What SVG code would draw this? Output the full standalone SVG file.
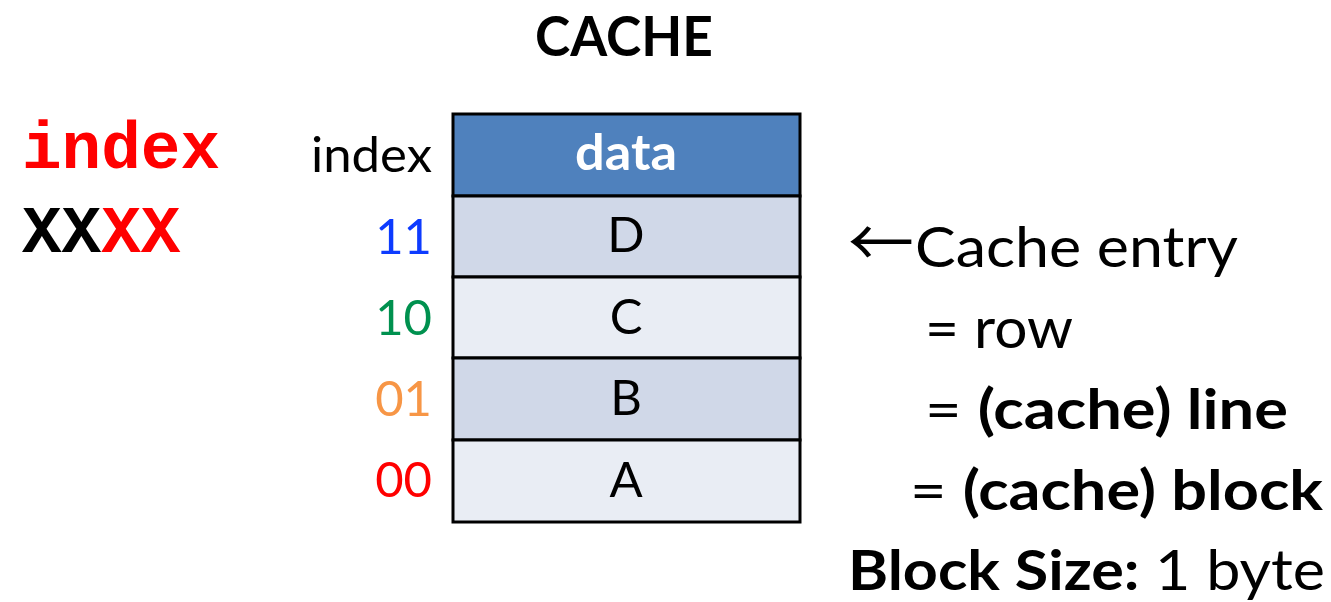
<svg xmlns="http://www.w3.org/2000/svg" width="1331" height="602" viewBox="0 0 1331 602">
<style>
.s{font-family:Lato,"Open Sans","Liberation Sans",sans-serif;}
.b{font-weight:bold;}
.m{font-family:"Liberation Mono","Courier New",monospace;font-weight:bold;font-size:66px;}
.cell{stroke:#000;stroke-width:3;}
.lbl{font-size:49px;text-anchor:middle;fill:#000;}
.idx{font-size:49px;text-anchor:end;}
.r{font-size:56px;fill:#000;}
.arr{font-family:"Noto Sans CJK SC",sans-serif;font-size:66px;}
</style>
<rect width="1331" height="602" fill="#fff"/>
<g id="title">
<text class="s b" x="624" y="56" font-size="56" text-anchor="middle" textLength="178" lengthAdjust="spacingAndGlyphs">CACHE</text>
</g>
<g id="address">
<text class="m" x="22" y="168" fill="#FF0000">index</text>
<text class="m" x="22" y="252"><tspan fill="#000">XX</tspan><tspan fill="#FF0000">XX</tspan></text>
</g>
<g id="cache-table">
<rect class="cell" x="453" y="114" width="347" height="82" fill="#4F81BD"/>
<rect class="cell" x="453" y="196" width="347" height="81" fill="#D0D8E8"/>
<rect class="cell" x="453" y="277" width="347" height="81" fill="#E9EDF4"/>
<rect class="cell" x="453" y="358" width="347" height="82" fill="#D0D8E8"/>
<rect class="cell" x="453" y="440" width="347" height="82" fill="#E9EDF4"/>
<text class="s b lbl" x="626" y="170" style="fill:#fff" textLength="102" lengthAdjust="spacingAndGlyphs">data</text>
<text class="s lbl" x="626" y="252">D</text>
<text class="s lbl" x="626" y="334">C</text>
<text class="s lbl" x="626" y="415">B</text>
<text class="s lbl" x="626" y="497">A</text>
<text class="s idx" x="432" y="172" fill="#000" textLength="121" lengthAdjust="spacingAndGlyphs">index</text>
<text class="s idx" x="432" y="254" fill="#0D3BFF">11</text>
<text class="s idx" x="432" y="335" fill="#00914F">10</text>
<text class="s idx" x="432" y="416" fill="#F79646">01</text>
<text class="s idx" x="432" y="497" fill="#FF0000">00</text>
</g>
<g id="notes">
<text class="s r" x="848" y="267"><tspan class="arr">←</tspan><tspan textLength="323" lengthAdjust="spacingAndGlyphs" x="915" y="267">Cache entry</tspan></text>
<text class="s r" x="925" y="348" textLength="148" lengthAdjust="spacingAndGlyphs">= row</text>
<text class="s r" x="925" y="429" textLength="363" lengthAdjust="spacingAndGlyphs">= <tspan class="b">(cache) line</tspan></text>
<text class="s r" x="910" y="510" textLength="413" lengthAdjust="spacingAndGlyphs">= <tspan class="b">(cache) block</tspan></text>
<text class="s r" x="848" y="590" textLength="477" lengthAdjust="spacingAndGlyphs"><tspan class="b">Block Size:</tspan> 1 byte</text>
</g>
</svg>
